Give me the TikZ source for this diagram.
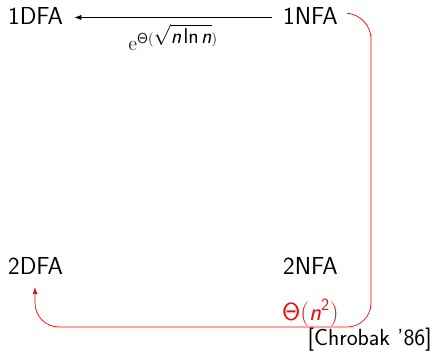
\documentclass[tikz,border=0pt]{standalone}
\usetikzlibrary{arrows.meta}
\begin{document}
\begin{tikzpicture}[x=1pt,y=1pt,
  lbl/.style={inner sep=0pt, font=\fontsize{24.6}{28}\sffamily},
  cite/.style={inner sep=0pt, font=\fontsize{23.3}{27}\sffamily},
  conn/.style={line width=0.7pt, -{Latex[length=7pt,width=5pt]}}]
\useasboundingbox (0,0) rectangle (435,-352);
\newcommand{\sfn}{\textsf{\itshape n}}
\node[lbl, anchor=base west] (d1) at (8,-25) {1DFA};
\node[lbl, anchor=base west] (n1) at (283,-25) {1NFA};
\node[lbl, anchor=base west] (d2) at (8,-274) {2DFA};
\node[lbl, anchor=base west] (n2) at (283,-274) {2NFA};
\draw[conn] ([xshift=-11pt,yshift=-1pt]n1.west) -- node[below=3pt, font=\fontsize{21.4}{24}\selectfont] (l1) {$\mathrm{e}^{\mathsf{\Theta(}\sqrt{\sfn\,\textsf{ln}\,\sfn}\mathsf{)}}$} ([xshift=11pt,yshift=-1pt]d1.east);
\coordinate (c1) at (371,-15);
\coordinate (c2) at (371,-327);
\coordinate (c3) at (35,-327);
\coordinate (c4) at (35,-287);
\draw[conn, red, rounded corners=24pt] ([xshift=12pt,yshift=3pt]n1.east) -- (c1) -- (c2) -- (c3) -- (c4);
\node[lbl, red, anchor=base west] (t2) at (282,-320) {$\mathsf{\Theta(}$\textsf{\itshape n}$^{\mathsf{2}}\mathsf{)}$};
\node[cite, anchor=base east] (cite) at (432,-345) {[Chrobak '86]};
\end{tikzpicture}
\end{document}
